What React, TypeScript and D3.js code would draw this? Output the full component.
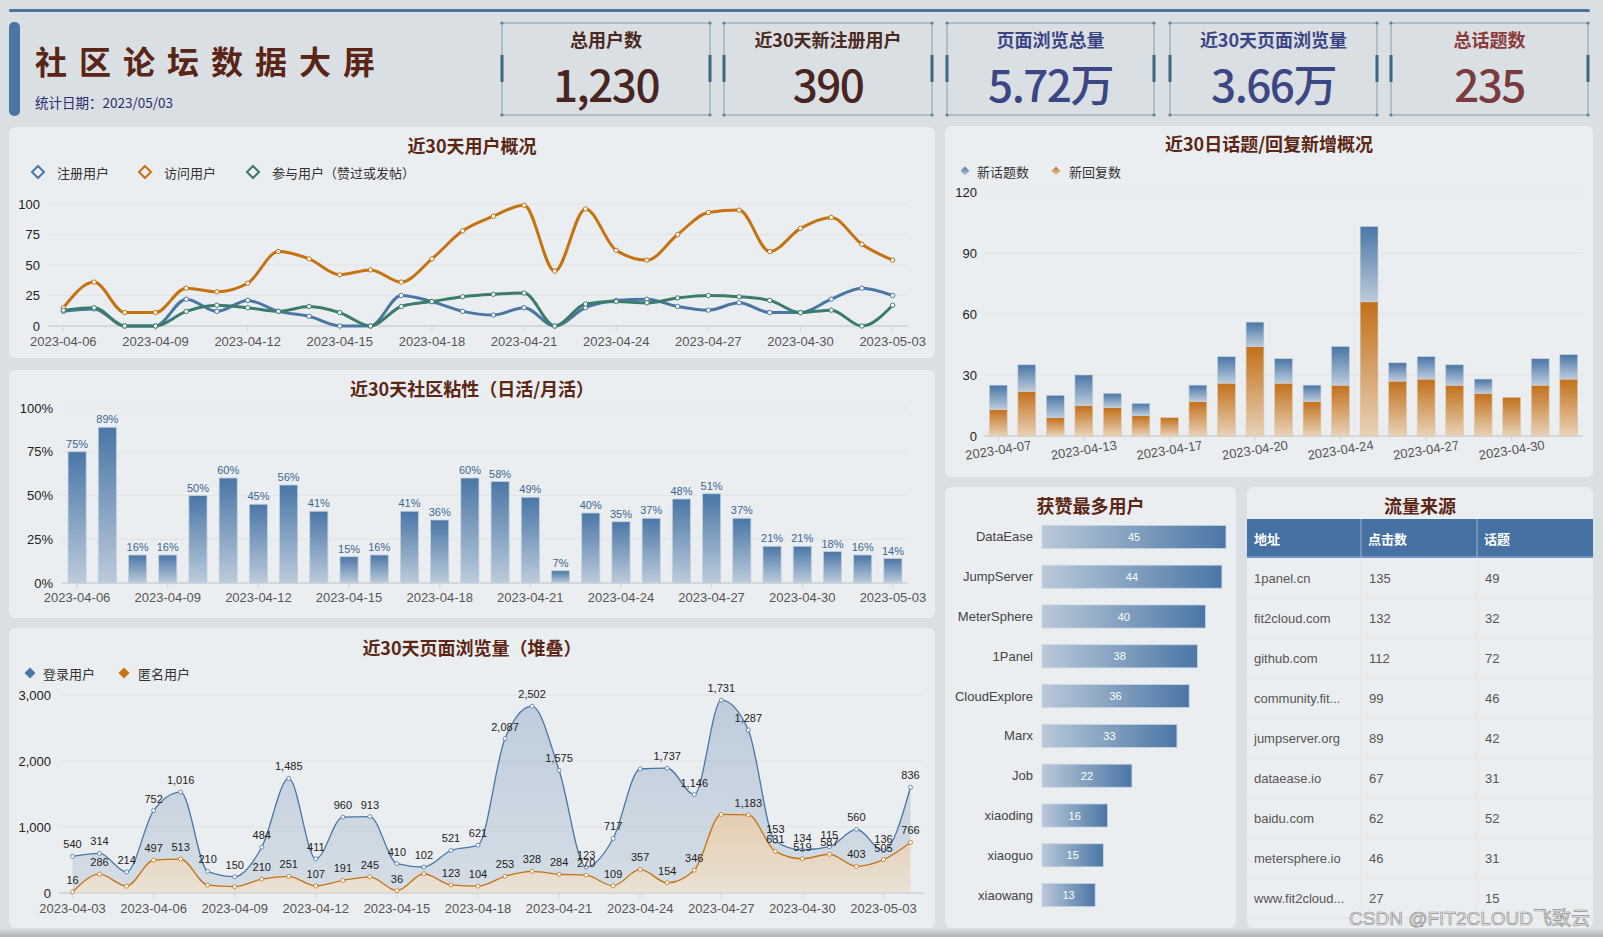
import React from 'react';
import * as d3 from 'd3';

const FONT = "'Liberation Sans', Arial, 'Noto Sans CJK SC', sans-serif";
const CJK = "'Noto Sans CJK SC', 'Liberation Sans', sans-serif";

const BLUE = '#4a76a6';
const ORANGE = '#c6720f';
const GREEN = '#3a7c6b';
const TITLE = '#5c2614';
const PANEL = '#ebeef0';
const GRID = '#e0e3e7';
const AXIS = '#cdd1d6';

// ---------- KPI ----------
const kpiTitles = ['总用户数', '近30天新注册用户', '页面浏览总量', '近30天页面浏览量', '总话题数'];
const kpiValues = ['1,230', '390', '5.72万', '3.66万', '235'];
const kpiTitleColors = ['#4b2a22', '#4b2a22', '#3c4684', '#3c4684', '#8a3b3b'];
const kpiValueColors = ['#4a2420', '#4a2420', '#3c4682', '#3c4682', '#7b3b3e'];

// ---------- 近30天用户概况 ----------
const userDates = [
  '2023-04-06', '2023-04-07', '2023-04-08', '2023-04-09', '2023-04-10', '2023-04-11', '2023-04-12',
  '2023-04-13', '2023-04-14', '2023-04-15', '2023-04-16', '2023-04-17', '2023-04-18', '2023-04-19',
  '2023-04-20', '2023-04-21', '2023-04-22', '2023-04-23', '2023-04-24', '2023-04-25', '2023-04-26',
  '2023-04-27', '2023-04-28', '2023-04-29', '2023-04-30', '2023-05-01', '2023-05-02', '2023-05-03',
];
const regUsers = [12, 14, 0, 0, 22, 12, 21, 12, 8, 0, 0, 25, 20, 12, 9, 15, 0, 15, 21, 22, 16, 13, 19, 11, 11, 22, 31, 25];
const visitUsers = [15, 36, 11, 11, 31, 28, 35, 61, 55, 42, 46, 36, 55, 78, 90, 99, 45, 96, 62, 54, 75, 93, 95, 61, 80, 89, 67, 54];
const activeUsers = [13, 15, 0, 0, 12, 17, 15, 12, 16, 11, 0, 16, 20, 24, 26, 27, 0, 18, 20, 19, 23, 25, 24, 21, 11, 13, 0, 17];
const userSeriesNames = ['注册用户', '访问用户', '参与用户（赞过或发帖）'];
const userTicks = [0, 25, 50, 75, 100];

// ---------- 社区粘性 ----------
const stickiness = [75, 89, 16, 16, 50, 60, 45, 56, 41, 15, 16, 41, 36, 60, 58, 49, 7, 40, 35, 37, 48, 51, 37, 21, 21, 18, 16, 14];
const stickTicks = [0, 25, 50, 75, 100];

// ---------- 页面浏览量 ----------
const pvDates = [
  '2023-04-03', '2023-04-04', '2023-04-05', '2023-04-06', '2023-04-07', '2023-04-08', '2023-04-09', '2023-04-10',
  '2023-04-11', '2023-04-12', '2023-04-13', '2023-04-14', '2023-04-15', '2023-04-16', '2023-04-17', '2023-04-18',
  '2023-04-19', '2023-04-20', '2023-04-21', '2023-04-22', '2023-04-23', '2023-04-24', '2023-04-25', '2023-04-26',
  '2023-04-27', '2023-04-28', '2023-04-29', '2023-04-30', '2023-05-01', '2023-05-02', '2023-05-03', '2023-05-04',
];
const pvLogin = [540, 314, 214, 752, 1016, 210, 150, 484, 1485, 411, 960, 913, 410, 102, 521, 621, 2087, 2502, 1575, 123, 717, 1522, 1737, 1146, 1731, 1287, 153, 134, 115, 560, 136, 836];
const pvAnon = [16, 286, 104, 497, 513, 118, 97, 210, 251, 107, 191, 245, 36, 292, 123, 104, 253, 328, 284, 270, 109, 357, 154, 346, 1190, 1183, 631, 519, 587, 403, 505, 766];
const pvLoginHiddenLabels = [21];
const pvAnonHiddenLabels = [2, 5, 6, 13, 24];
const pvTicks = [0, 1000, 2000, 3000];

// ---------- 话题/回复 ----------
const topicDates = [
  '2023-04-07', '2023-04-10', '2023-04-11', '2023-04-13', '2023-04-14', '2023-04-16', '2023-04-17',
  '2023-04-18', '2023-04-19', '2023-04-20', '2023-04-21', '2023-04-23', '2023-04-24', '2023-04-25',
  '2023-04-26', '2023-04-27', '2023-04-28', '2023-04-29', '2023-04-30', '2023-05-01', '2023-05-02',
];
const newTopics = [12, 13, 11, 15, 7, 6, 0, 8, 13, 12, 12, 8, 19, 37, 9, 11, 10, 7, 0, 13, 12];
const newReplies = [13, 22, 9, 15, 14, 10, 9, 17, 26, 44, 26, 17, 25, 66, 27, 28, 25, 21, 19, 25, 28];
const topicTicks = [0, 30, 60, 90, 120];

// ---------- 获赞最多用户 ----------
const likeUsers = ['DataEase', 'JumpServer', 'MeterSphere', '1Panel', 'CloudExplore', 'Marx', 'Job', 'xiaoding', 'xiaoguo', 'xiaowang'];
const likeCounts = [45, 44, 40, 38, 36, 33, 22, 16, 15, 13];

// ---------- 流量来源 ----------
const trafficHeaders = ['地址', '点击数', '话题'];
const trafficSites = ['1panel.cn', 'fit2cloud.com', 'github.com', 'community.fit...', 'jumpserver.org', 'dataease.io', 'baidu.com', 'metersphere.io', 'www.fit2cloud...'];
const trafficClicks = [135, 132, 112, 99, 89, 67, 62, 46, 27];
const trafficTopics = [49, 32, 72, 46, 42, 31, 52, 31, 15];

const fmt = d3.format(',');

function Panel({ x, y, w, h, title, ty }: any) {
  return (
    <g>
      <rect x={x} y={y} width={w} height={h} rx={6} fill={PANEL} />
      <text x={x + w / 2} y={ty} textAnchor="middle" dominantBaseline="central" fontFamily={CJK}
        fontSize={18} fontWeight={700} fill={TITLE}>{title}</text>
    </g>
  );
}

function diamond(cx: number, cy: number, r: number) {
  return `M${cx},${cy - r}L${cx + r},${cy}L${cx},${cy + r}L${cx - r},${cy}Z`;
}

function Header() {
  const cardX = [502, 724, 947, 1170, 1391];
  const cardW = [208, 208, 207, 207, 197];
  const top = 23, h = 92;
  return (
    <g>
      <rect x={9} y={9} width={1581} height={3} rx={1.5} fill="#4a76a0" />
      <rect x={9} y={22} width={11} height={94} rx={5} fill="#4a76a6" />
      <text x={35} y={60} dominantBaseline="central" fontFamily={CJK} fontSize={32} fontWeight={700}
        letterSpacing={12} fill="#5a2514">社区论坛数据大屏</text>
      <text x={35} y={102} dominantBaseline="central" fontFamily={CJK} fontSize={13.5} fill="#2b2d6e">统计日期：2023/05/03</text>
      {kpiTitles.map((t, i) => {
        const x = cardX[i], w = cardW[i];
        return (
          <g key={t}>
            <rect x={x} y={top} width={w} height={h} fill="none" stroke="#86a0b0" strokeWidth={1} />
            {[[x, top], [x + w, top], [x, top + h], [x + w, top + h]].map(([px, py], k) => (
              <circle key={k} cx={px} cy={py} r={1.6} fill="#5a8098" />
            ))}
            <rect x={x - 1.5} y={55} width={3} height={27} fill="#3b6883" />
            <rect x={x + w - 1.5} y={55} width={3} height={27} fill="#3b6883" />
            <text x={x + w / 2} y={39} textAnchor="middle" dominantBaseline="central" fontFamily={CJK}
              fontSize={18} fontWeight={600} fill={kpiTitleColors[i]}>{t}</text>
            <text x={x + w / 2} y={83} textAnchor="middle" dominantBaseline="central" fontFamily={CJK}
              fontSize={44} fontWeight={500} letterSpacing={-1.5} fill={kpiValueColors[i]}>{kpiValues[i]}</text>
          </g>
        );
      })}
    </g>
  );
}

function UserChart() {
  const x = d3.scaleBand<string>().domain(userDates).range([48, 908]);
  const cx = (i: number) => (x(userDates[i]) as number) + x.bandwidth() / 2;
  const y = d3.scaleLinear().domain([0, 100]).range([326, 204]);
  const gen = d3.line<number>().x((_, i) => cx(i)).y(v => y(v)).curve(d3.curveMonotoneX);
  const series = [
    { vals: regUsers, color: BLUE },
    { vals: visitUsers, color: ORANGE },
    { vals: activeUsers, color: GREEN },
  ];
  const legendX = [38, 145, 253];
  return (
    <g>
      <Panel x={9} y={127} w={926} h={231} title="近30天用户概况" ty={145} />
      {userSeriesNames.map((n, i) => (
        <g key={n}>
          <path d={diamond(legendX[i], 172, 6)} fill="none" stroke={series[i].color} strokeWidth={2} />
          <text x={legendX[i] + 19} y={172} dominantBaseline="central" fontFamily={CJK} fontSize={13} fill="#333">{n}</text>
        </g>
      ))}
      {userTicks.map(t => (
        <g key={t}>
          <line x1={48} x2={908} y1={y(t)} y2={y(t)} stroke={t === 0 ? AXIS : GRID} strokeWidth={t === 0 ? 1.5 : 1} />
          <text x={40} y={y(t)} textAnchor="end" dominantBaseline="central" fontFamily={FONT} fontSize={13} fill="#222">{t}</text>
        </g>
      ))}
      {userDates.map((d, i) => i % 3 === 0 ? (
        <g key={d}>
          <line x1={cx(i)} x2={cx(i)} y1={326} y2={331} stroke={AXIS} />
          <text x={cx(i)} y={341} textAnchor="middle" dominantBaseline="central" fontFamily={FONT} fontSize={13} fill="#555">{d}</text>
        </g>
      ) : null)}
      {series.map((s, k) => (
        <g key={k}>
          <path d={gen(s.vals) as string} fill="none" stroke={s.color} strokeWidth={3} />
          {s.vals.map((v, i) => (
            <circle key={i} cx={cx(i)} cy={y(v)} r={2.2} fill="#fff" stroke={s.color} strokeWidth={1} />
          ))}
        </g>
      ))}
    </g>
  );
}

function StickChart() {
  const p = 0.4;
  const x = d3.scaleBand<string>().domain(userDates).range([62, 908]).paddingInner(p).paddingOuter(p / 2);
  const y = d3.scaleLinear().domain([0, 100]).range([583, 408]);
  return (
    <g>
      <Panel x={9} y={370} w={926} h={248} title="近30天社区粘性（日活/月活）" ty={388} />
      {stickTicks.map(t => (
        <g key={t}>
          <line x1={62} x2={908} y1={y(t)} y2={y(t)} stroke={t === 0 ? AXIS : GRID} strokeWidth={t === 0 ? 1.5 : 1} />
          <text x={53} y={y(t)} textAnchor="end" dominantBaseline="central" fontFamily={FONT} fontSize={13} fill="#222">{t}%</text>
        </g>
      ))}
      {stickiness.map((v, i) => {
        const bx = x(userDates[i]) as number;
        return (
          <g key={i}>
            <rect x={bx} y={y(v)} width={x.bandwidth()} height={y(0) - y(v)} fill="url(#gBarBlue)" stroke="#c3d1df" strokeWidth={0.8} />
            <text x={bx + x.bandwidth() / 2} y={y(v) - 8} textAnchor="middle" dominantBaseline="central"
              fontFamily={FONT} fontSize={11} fill="#3a6690">{v}%</text>
          </g>
        );
      })}
      {userDates.map((d, i) => i % 3 === 0 ? (
        <g key={d}>
          <line x1={(x(d) as number) + x.bandwidth() / 2} x2={(x(d) as number) + x.bandwidth() / 2} y1={583} y2={588} stroke={AXIS} />
          <text x={(x(d) as number) + x.bandwidth() / 2} y={597} textAnchor="middle" dominantBaseline="central"
            fontFamily={FONT} fontSize={13} fill="#555">{d}</text>
        </g>
      ) : null)}
    </g>
  );
}

function PvChart() {
  const x = d3.scaleBand<string>().domain(pvDates).range([59, 924]);
  const cx = (i: number) => (x(pvDates[i]) as number) + x.bandwidth() / 2;
  const y = d3.scaleLinear().domain([0, 3000]).range([893, 695]);
  const totals = pvLogin.map((v, i) => v + pvAnon[i]);
  const areaAnon = d3.area<number>().x((_, i) => cx(i)).y0(y(0)).y1(v => y(v)).curve(d3.curveMonotoneX);
  const lineGen = d3.line<number>().x((_, i) => cx(i)).y(v => y(v)).curve(d3.curveMonotoneX);
  const areaLogin = d3.area<number>().x((_, i) => cx(i)).y0((_, i) => y(pvAnon[i])).y1(v => y(v)).curve(d3.curveMonotoneX);
  return (
    <g>
      <Panel x={9} y={628} w={926} h={300} title="近30天页面浏览量（堆叠）" ty={647} />
      <path d={diamond(30, 673, 5.5)} fill={BLUE} />
      <text x={43} y={673} dominantBaseline="central" fontFamily={CJK} fontSize={13} fill="#333">登录用户</text>
      <path d={diamond(124, 673, 5.5)} fill={ORANGE} />
      <text x={138} y={673} dominantBaseline="central" fontFamily={CJK} fontSize={13} fill="#333">匿名用户</text>
      {pvTicks.map(t => (
        <g key={t}>
          <line x1={59} x2={924} y1={y(t)} y2={y(t)} stroke={t === 0 ? AXIS : GRID} strokeWidth={t === 0 ? 1.5 : 1} />
          <text x={51} y={y(t)} textAnchor="end" dominantBaseline="central" fontFamily={FONT} fontSize={13} fill="#222">{fmt(t)}</text>
        </g>
      ))}
      <path d={areaLogin(totals) as string} fill="url(#gAreaBlue)" />
      <path d={areaAnon(pvAnon) as string} fill="url(#gAreaOrange)" />
      <path d={lineGen(pvAnon) as string} fill="none" stroke={ORANGE} strokeWidth={1.3} />
      <path d={lineGen(totals) as string} fill="none" stroke={BLUE} strokeWidth={1.3} />
      {pvAnon.map((v, i) => (
        <circle key={'a' + i} cx={cx(i)} cy={y(v)} r={2} fill="#fff" stroke={ORANGE} strokeWidth={0.8} />
      ))}
      {totals.map((v, i) => (
        <circle key={'t' + i} cx={cx(i)} cy={y(v)} r={2} fill="#fff" stroke={BLUE} strokeWidth={0.8} />
      ))}
      {pvAnon.map((v, i) => pvAnonHiddenLabels.includes(i) ? null : (
        <text key={'la' + i} x={cx(i)} y={y(v) - 12} textAnchor="middle" dominantBaseline="central"
          fontFamily={FONT} fontSize={11} fill="#222">{fmt(v)}</text>
      ))}
      {pvLogin.map((v, i) => pvLoginHiddenLabels.includes(i) ? null : (
        <text key={'ll' + i} x={cx(i)} y={y(totals[i]) - 12} textAnchor="middle" dominantBaseline="central"
          fontFamily={FONT} fontSize={11} fill="#222">{fmt(v)}</text>
      ))}
      {pvDates.map((d, i) => i % 3 === 0 ? (
        <g key={d}>
          <line x1={cx(i)} x2={cx(i)} y1={893} y2={898} stroke={AXIS} />
          <text x={cx(i)} y={908} textAnchor="middle" dominantBaseline="central" fontFamily={FONT} fontSize={13} fill="#555">{d}</text>
        </g>
      ) : null)}
    </g>
  );
}

function TopicChart() {
  const p = 0.375;
  const x = d3.scaleBand<string>().domain(topicDates).range([984, 1583]).paddingInner(p).paddingOuter(p / 2);
  const y = d3.scaleLinear().domain([0, 120]).range([436, 192]);
  return (
    <g>
      <Panel x={945} y={126} w={648} h={351} title="近30日话题/回复新增概况" ty={143} />
      <path d={diamond(965, 171, 4.5)} fill="url(#gBarBlue)" />
      <text x={977} y={171} dominantBaseline="central" fontFamily={CJK} fontSize={13} fill="#333">新话题数</text>
      <path d={diamond(1056, 171, 4.5)} fill="url(#gBarOrange)" />
      <text x={1069} y={171} dominantBaseline="central" fontFamily={CJK} fontSize={13} fill="#333">新回复数</text>
      {topicTicks.map(t => (
        <g key={t}>
          <line x1={984} x2={1583} y1={y(t)} y2={y(t)} stroke={t === 0 ? AXIS : GRID} strokeWidth={t === 0 ? 1.5 : 1} />
          <text x={977} y={y(t)} textAnchor="end" dominantBaseline="central" fontFamily={FONT} fontSize={13} fill="#222">{t}</text>
        </g>
      ))}
      {topicDates.map((d, i) => {
        const bx = x(d) as number;
        const r = newReplies[i], t = newTopics[i];
        return (
          <g key={d}>
            <rect x={bx} y={y(r)} width={x.bandwidth()} height={y(0) - y(r)} fill="url(#gBarOrange)" stroke="#e2c9ab" strokeWidth={0.6} />
            {t > 0 ? (
              <rect x={bx} y={y(r + t)} width={x.bandwidth()} height={y(r) - y(r + t)} fill="url(#gBarBlue)" stroke="#c3d1df" strokeWidth={0.6} />
            ) : null}
          </g>
        );
      })}
      {topicDates.map((d, i) => {
        if (i % 3 !== 0) return null;
        const c = (x(d) as number) + x.bandwidth() / 2;
        return (
          <g key={'l' + d}>
            <line x1={c} x2={c} y1={436} y2={441} stroke={AXIS} />
            <text x={c} y={450} textAnchor="middle" dominantBaseline="central" fontFamily={FONT} fontSize={13}
              fill="#555" transform={`rotate(-9, ${c}, 450)`}>{d}</text>
          </g>
        );
      })}
    </g>
  );
}

function LikeChart() {
  const y = d3.scaleBand<string>().domain(likeUsers).range([517, 915]).paddingInner(0.42).paddingOuter(0.21);
  const x = d3.scaleLinear().domain([0, 45]).range([1042, 1226]);
  return (
    <g>
      <Panel x={945} y={487} w={291} h={441} title="获赞最多用户" ty={505} />
      {likeUsers.map((n, i) => {
        const by = y(n) as number;
        const v = likeCounts[i];
        return (
          <g key={n}>
            <text x={1033} y={by + y.bandwidth() / 2} textAnchor="end" dominantBaseline="central" fontFamily={FONT}
              fontSize={13} fill="#444">{n}</text>
            <rect x={x(0)} y={by} width={x(v) - x(0)} height={y.bandwidth()} fill="url(#gBarH)" stroke="#c9d6e3" strokeWidth={0.8} />
            <text x={(x(0) + x(v)) / 2} y={by + y.bandwidth() / 2} textAnchor="middle" dominantBaseline="central"
              fontFamily={FONT} fontSize={11} fill="#fff">{v}</text>
          </g>
        );
      })}
    </g>
  );
}

function TrafficTable() {
  const colX = [1247, 1361, 1477];
  const rowH = 40;
  const headTop = 519, headH = 39;
  return (
    <g>
      <Panel x={1247} y={487} w={346} h={441} title="流量来源" ty={505} />
      <rect x={1247} y={headTop} width={346} height={headH} fill="#4672a3" />
      <rect x={1247} y={headTop + headH - 2} width={346} height={2} fill="#6f94bd" />
      {colX.slice(1).map((cx, i) => (
        <line key={i} x1={cx} x2={cx} y1={headTop} y2={headTop + headH} stroke="#9fb6cf" strokeWidth={1} />
      ))}
      {trafficHeaders.map((h, i) => (
        <text key={h} x={colX[i] + 7} y={headTop + headH / 2} dominantBaseline="central" fontFamily={CJK}
          fontSize={13} fontWeight={700} fill="#fff">{h}</text>
      ))}
      {trafficSites.map((s, r) => {
        const top = headTop + headH + r * rowH;
        const cy = top + rowH / 2;
        return (
          <g key={s}>
            <line x1={1247} x2={1593} y1={top + rowH} y2={top + rowH} stroke="#e6e2e2" strokeWidth={1} />
            {colX.slice(1).map((cx, i) => (
              <line key={i} x1={cx} x2={cx} y1={top} y2={top + rowH} stroke="#e9e6e6" strokeWidth={1} />
            ))}
            <text x={colX[0] + 7} y={cy} dominantBaseline="central" fontFamily={FONT} fontSize={13} fill="#555">{s}</text>
            <text x={colX[1] + 8} y={cy} dominantBaseline="central" fontFamily={FONT} fontSize={13} fill="#555">{trafficClicks[r]}</text>
            <text x={colX[2] + 8} y={cy} dominantBaseline="central" fontFamily={FONT} fontSize={13} fill="#555">{trafficTopics[r]}</text>
          </g>
        );
      })}
      <text x={1590} y={918} textAnchor="end" dominantBaseline="central" fontFamily={FONT} fontSize={19}
        fill="#f2f2f2" fillOpacity={0.85} stroke="#8f8f8f" strokeWidth={0.7}>CSDN @FIT2CLOUD飞致云</text>
    </g>
  );
}

export default function App() {
  React.useEffect(() => {
    document.body.style.margin = '0';
  }, []);
  return (
    <svg width={1603} height={937} style={{ position: 'absolute', left: 0, top: 0, display: 'block' }}>
      <defs>
        <linearGradient id="gBarBlue" x1="0" y1="0" x2="0" y2="1">
          <stop offset="0" stopColor="#4a76a6" />
          <stop offset="1" stopColor="#bccbdb" />
        </linearGradient>
        <linearGradient id="gBarOrange" x1="0" y1="0" x2="0" y2="1">
          <stop offset="0" stopColor="#c2701a" />
          <stop offset="1" stopColor="#e8d2b8" />
        </linearGradient>
        <linearGradient id="gBarH" x1="0" y1="0" x2="1" y2="0">
          <stop offset="0" stopColor="#bac9d9" />
          <stop offset="1" stopColor="#4a76a6" />
        </linearGradient>
        <linearGradient id="gAreaBlue" gradientUnits="userSpaceOnUse" x1="0" y1="700" x2="0" y2="893">
          <stop offset="0" stopColor="#4a76a6" stopOpacity={0.28} />
          <stop offset="1" stopColor="#4a76a6" stopOpacity={0.14} />
        </linearGradient>
        <linearGradient id="gAreaOrange" gradientUnits="userSpaceOnUse" x1="0" y1="780" x2="0" y2="893">
          <stop offset="0" stopColor="#d9a566" stopOpacity={0.5} />
          <stop offset="1" stopColor="#eadccb" stopOpacity={0.7} />
        </linearGradient>
        <linearGradient id="gBottom" x1="0" y1="0" x2="0" y2="1">
          <stop offset="0" stopColor="#d3d8dc" />
          <stop offset="1" stopColor="#aeb3b7" />
        </linearGradient>
      </defs>
      <rect x={0} y={0} width={1603} height={937} fill="#d9dfe3" />
      <rect x={0} y={929} width={1603} height={8} fill="url(#gBottom)" />
      <Header />
      <UserChart />
      <StickChart />
      <PvChart />
      <TopicChart />
      <LikeChart />
      <TrafficTable />
    </svg>
  );
}
